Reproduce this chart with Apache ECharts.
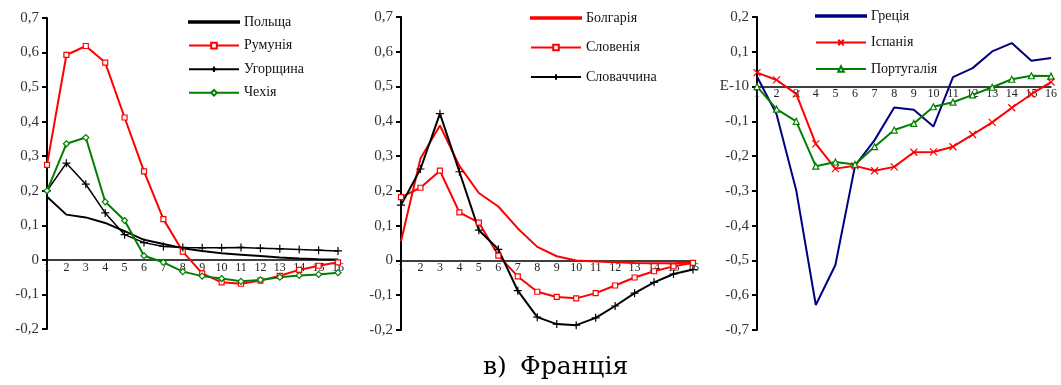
<!DOCTYPE html>
<html>
<head>
<meta charset="utf-8">
<script src="https://cdn.jsdelivr.net/npm/echarts@6/dist/echarts.min.js"></script>
<style>
  html, body { margin: 0; padding: 0; background: #fff; }
  #chart { width: 1061px; height: 385px; }
</style>
</head>
<body>
<div id="chart"></div>
<script>
var periods = ['1', '2', '3', '4', '5', '6', '7', '8', '9', '10', '11', '12', '13', '14', '15', '16'];

// панель 1
var poland   = [0.183, 0.131, 0.123, 0.107, 0.083, 0.058, 0.046, 0.034, 0.026, 0.019, 0.015, 0.011, 0.007, 0.004, 0.002, 0.001];
var romania  = [0.275, 0.593, 0.619, 0.571, 0.412, 0.256, 0.118, 0.024, -0.039, -0.065, -0.069, -0.060, -0.046, -0.029, -0.017, -0.007];
var hungary  = [0.200, 0.280, 0.219, 0.136, 0.073, 0.050, 0.039, 0.036, 0.035, 0.035, 0.036, 0.034, 0.032, 0.030, 0.028, 0.026];
var czechia  = [0.200, 0.336, 0.354, 0.168, 0.114, 0.012, -0.007, -0.034, -0.047, -0.054, -0.062, -0.058, -0.050, -0.045, -0.042, -0.037];

// панель 2
var bulgaria = [0.055, 0.293, 0.388, 0.272, 0.194, 0.155, 0.092, 0.039, 0.012, 0.000, -0.003, -0.005, -0.007, -0.008, -0.008, -0.006];
var slovenia = [0.182, 0.209, 0.258, 0.138, 0.109, 0.014, -0.046, -0.090, -0.105, -0.109, -0.094, -0.072, -0.049, -0.031, -0.017, -0.007];
var slovakia = [0.159, 0.263, 0.422, 0.255, 0.087, 0.032, -0.087, -0.163, -0.183, -0.186, -0.165, -0.131, -0.094, -0.063, -0.039, -0.026];

// панель 3
var greece   = [0.029, -0.080, -0.298, -0.628, -0.513, -0.228, -0.154, -0.060, -0.067, -0.115, 0.027, 0.053, 0.101, 0.125, 0.074, 0.082];
var spain    = [0.040, 0.019, -0.021, -0.165, -0.236, -0.228, -0.242, -0.231, -0.189, -0.188, -0.173, -0.138, -0.103, -0.061, -0.022, 0.013];
var portugal = [0.000, -0.065, -0.100, -0.229, -0.217, -0.224, -0.173, -0.125, -0.106, -0.058, -0.045, -0.024, -0.002, 0.021, 0.031, 0.030];

var FONT = '"Liberation Serif", "DejaVu Serif", serif';
var plusSym = 'path://M5,0L5,10M0,5L10,5';
var crossSym = 'path://M0,0L10,10M10,0L0,10';
var lineIcon = 'path://M0,0h35v1h-35z';

function yLabel(zeroText) {
    return function (v) {
        var r = Math.round(v * 10) / 10;
        if (r === 0) return zeroText;
        return r.toFixed(1).replace('.', ',');
    };
}

// подписи оси X ставим у нулевой линии (margin отрицательный)
function xAx(i, margin) {
    return {
        type: 'category', gridIndex: i, data: periods, boundaryGap: false,
        axisLine: { onZero: true, lineStyle: { color: '#000', width: 1.5 } },
        axisTick: { show: false },
        axisLabel: { color: '#222', fontFamily: FONT, fontSize: 12, margin: margin, interval: 0 },
        splitLine: { show: false }
    };
}

function yAx(i, min, max, zeroText) {
    return {
        type: 'value', gridIndex: i, min: min, max: max, interval: 0.1,
        axisLine: { show: true, lineStyle: { color: '#000', width: 2 } },
        axisTick: { show: true, length: 5, lineStyle: { color: '#000', width: 2 } },
        axisLabel: { color: '#333', fontFamily: FONT, fontSize: 15, margin: 8, formatter: yLabel(zeroText) },
        splitLine: { show: false }
    };
}

function line(name, data, idx, color, width, symbol, size, fill) {
    return {
        name: name, type: 'line', data: data, xAxisIndex: idx, yAxisIndex: idx,
        symbol: symbol || 'none', symbolSize: size || 6, showSymbol: !!symbol,
        lineStyle: { color: color, width: width },
        itemStyle: { color: fill || color, borderColor: color, borderWidth: 1.2 },
        animation: false
    };
}

function legend(items, left, top, gap) {
    return {
        data: items, orient: 'vertical', left: left, top: top,
        itemWidth: 50, itemHeight: 7, itemGap: gap,
        textStyle: { color: '#111', fontFamily: FONT, fontSize: 14 },
        selectedMode: false
    };
}

var chart = echarts.init(document.getElementById('chart'));
chart.setOption({
    backgroundColor: '#fff',
    grid: [
        { left: 47, top: 18, width: 291, height: 311 },
        { left: 401, top: 17, width: 292, height: 313 },
        { left: 757, top: 17, width: 294, height: 313 }
    ],
    xAxis: [xAx(0, -67), xAx(1, -68), xAx(2, -242)],
    yAxis: [yAx(0, -0.2, 0.7, '0'), yAx(1, -0.2, 0.7, '0'), yAx(2, -0.7, 0.2, 'E-10')],
    legend: [
        legend([{ name: 'Польща', icon: lineIcon }, 'Румунія', 'Угорщина', 'Чехія'], 183, 10, 9.6),
        legend([{ name: 'Болгарія', icon: lineIcon }, 'Словенія', 'Словаччина'], 525, 6, 15.5),
        legend([{ name: 'Греція', icon: lineIcon }, 'Іспанія', 'Португалія'], 810, 4, 12.5)
    ],
    series: [
        line('Польща', poland, 0, '#000', 2),
        line('Румунія', romania, 0, '#ff0000', 2, 'rect', 5, '#fff'),
        line('Угорщина', hungary, 0, '#000', 1.5, plusSym, 8),
        line('Чехія', czechia, 0, '#008000', 2, 'diamond', 6, '#fff'),
        line('Болгарія', bulgaria, 1, '#ff0000', 2),
        line('Словенія', slovenia, 1, '#ff0000', 2, 'rect', 5, '#fff'),
        line('Словаччина', slovakia, 1, '#000', 2, plusSym, 8),
        line('Греція', greece, 2, '#000080', 2),
        line('Іспанія', spain, 2, '#ff0000', 2, crossSym, 7),
        line('Португалія', portugal, 2, '#008000', 2, 'triangle', 6, '#fff')
    ],
    graphic: [
        { type: 'text', left: 483, top: 355, style: { text: 'в)', font: '25px "DejaVu Serif", serif', fill: '#000' } },
        { type: 'text', left: 520, top: 355, style: { text: 'Франція', font: '25px "DejaVu Serif", serif', fill: '#000' } }
    ]
});
</script>
</body>
</html>
